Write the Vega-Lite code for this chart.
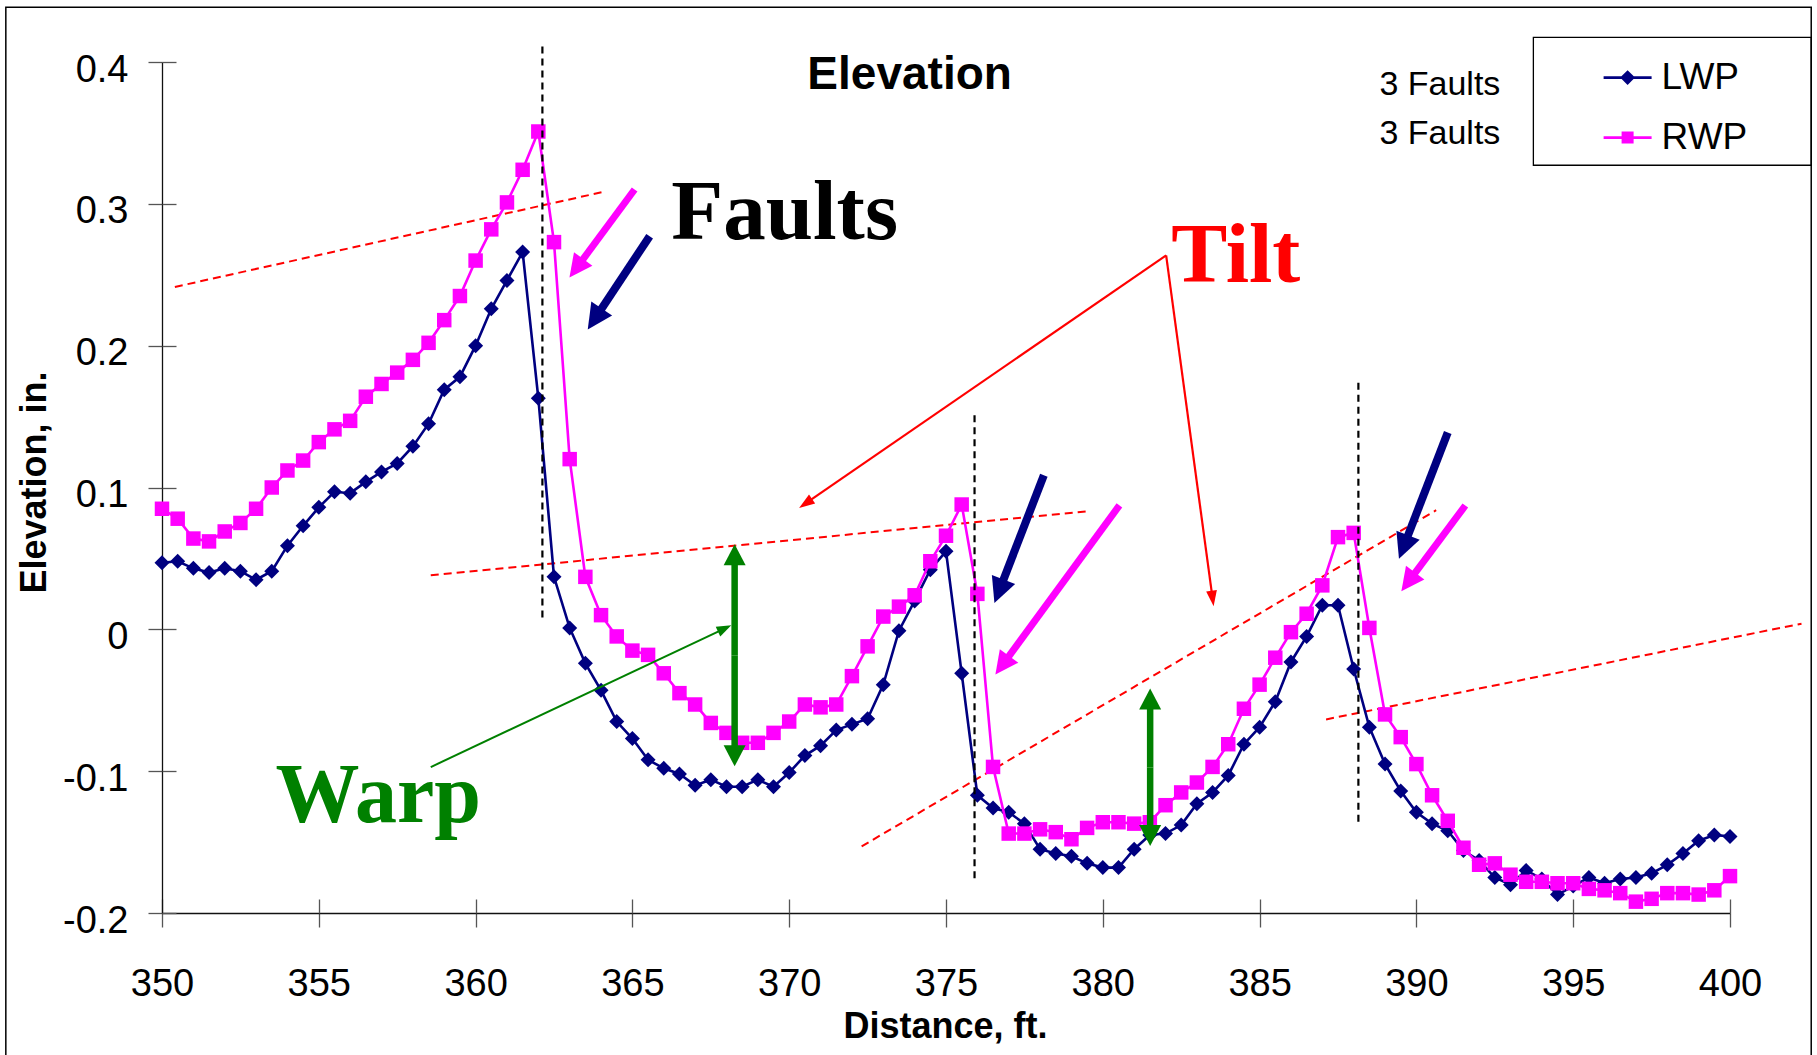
{
  "$schema": "https://vega.github.io/schema/vega-lite/v6.json",
  "width": 1568,
  "height": 851,
  "autosize": {"type": "none"},
  "padding": {"left": 162, "top": 62, "right": 87, "bottom": 142},
  "background": "white",
  "config": {
    "view": {"stroke": null},
    "font": "Liberation Sans",
    "axis": {
      "grid": false,
      "domainColor": "#111111",
      "domainWidth": 1.3,
      "tickColor": "#555555",
      "tickWidth": 1.3,
      "labelFont": "Liberation Sans",
      "labelFontSize": 38,
      "labelColor": "black",
      "titleFont": "Liberation Sans",
      "titleFontSize": 36,
      "titleFontWeight": "bold",
      "titleColor": "black"
    }
  },
  "datasets": {
    "profile": [
      {"d": 350.0, "LWP": 0.047, "RWP": 0.085},
      {"d": 350.5, "LWP": 0.048, "RWP": 0.078},
      {"d": 351.0, "LWP": 0.043, "RWP": 0.064},
      {"d": 351.5, "LWP": 0.040, "RWP": 0.062},
      {"d": 352.0, "LWP": 0.043, "RWP": 0.069},
      {"d": 352.5, "LWP": 0.041, "RWP": 0.075},
      {"d": 353.0, "LWP": 0.035, "RWP": 0.085},
      {"d": 353.5, "LWP": 0.041, "RWP": 0.100},
      {"d": 354.0, "LWP": 0.059, "RWP": 0.112},
      {"d": 354.5, "LWP": 0.073, "RWP": 0.119},
      {"d": 355.0, "LWP": 0.086, "RWP": 0.132},
      {"d": 355.5, "LWP": 0.097, "RWP": 0.141},
      {"d": 356.0, "LWP": 0.096, "RWP": 0.147},
      {"d": 356.5, "LWP": 0.104, "RWP": 0.164},
      {"d": 357.0, "LWP": 0.111, "RWP": 0.173},
      {"d": 357.5, "LWP": 0.117, "RWP": 0.181},
      {"d": 358.0, "LWP": 0.129, "RWP": 0.190},
      {"d": 358.5, "LWP": 0.145, "RWP": 0.202},
      {"d": 359.0, "LWP": 0.169, "RWP": 0.218},
      {"d": 359.5, "LWP": 0.178, "RWP": 0.235},
      {"d": 360.0, "LWP": 0.200, "RWP": 0.260},
      {"d": 360.5, "LWP": 0.226, "RWP": 0.282},
      {"d": 361.0, "LWP": 0.246, "RWP": 0.301},
      {"d": 361.5, "LWP": 0.266, "RWP": 0.324},
      {"d": 362.0, "LWP": 0.163, "RWP": 0.351},
      {"d": 362.5, "LWP": 0.037, "RWP": 0.273},
      {"d": 363.0, "LWP": 0.001, "RWP": 0.120},
      {"d": 363.5, "LWP": -0.024, "RWP": 0.037},
      {"d": 364.0, "LWP": -0.043, "RWP": 0.010},
      {"d": 364.5, "LWP": -0.065, "RWP": -0.005},
      {"d": 365.0, "LWP": -0.077, "RWP": -0.015},
      {"d": 365.5, "LWP": -0.092, "RWP": -0.018},
      {"d": 366.0, "LWP": -0.098, "RWP": -0.031},
      {"d": 366.5, "LWP": -0.102, "RWP": -0.045},
      {"d": 367.0, "LWP": -0.110, "RWP": -0.053},
      {"d": 367.5, "LWP": -0.106, "RWP": -0.066},
      {"d": 368.0, "LWP": -0.111, "RWP": -0.073},
      {"d": 368.5, "LWP": -0.111, "RWP": -0.080},
      {"d": 369.0, "LWP": -0.106, "RWP": -0.080},
      {"d": 369.5, "LWP": -0.111, "RWP": -0.073},
      {"d": 370.0, "LWP": -0.101, "RWP": -0.065},
      {"d": 370.5, "LWP": -0.089, "RWP": -0.053},
      {"d": 371.0, "LWP": -0.082, "RWP": -0.055},
      {"d": 371.5, "LWP": -0.071, "RWP": -0.053},
      {"d": 372.0, "LWP": -0.067, "RWP": -0.033},
      {"d": 372.5, "LWP": -0.063, "RWP": -0.012},
      {"d": 373.0, "LWP": -0.039, "RWP": 0.009},
      {"d": 373.5, "LWP": -0.001, "RWP": 0.016},
      {"d": 374.0, "LWP": 0.020, "RWP": 0.024},
      {"d": 374.5, "LWP": 0.042, "RWP": 0.048},
      {"d": 375.0, "LWP": 0.055, "RWP": 0.066},
      {"d": 375.5, "LWP": -0.031, "RWP": 0.088},
      {"d": 376.0, "LWP": -0.117, "RWP": 0.025},
      {"d": 376.5, "LWP": -0.126, "RWP": -0.097},
      {"d": 377.0, "LWP": -0.129, "RWP": -0.144},
      {"d": 377.5, "LWP": -0.137, "RWP": -0.144},
      {"d": 378.0, "LWP": -0.155, "RWP": -0.141},
      {"d": 378.5, "LWP": -0.158, "RWP": -0.143},
      {"d": 379.0, "LWP": -0.160, "RWP": -0.148},
      {"d": 379.5, "LWP": -0.165, "RWP": -0.140},
      {"d": 380.0, "LWP": -0.168, "RWP": -0.136},
      {"d": 380.5, "LWP": -0.168, "RWP": -0.136},
      {"d": 381.0, "LWP": -0.155, "RWP": -0.137},
      {"d": 381.5, "LWP": -0.145, "RWP": -0.136},
      {"d": 382.0, "LWP": -0.144, "RWP": -0.124},
      {"d": 382.5, "LWP": -0.138, "RWP": -0.115},
      {"d": 383.0, "LWP": -0.123, "RWP": -0.108},
      {"d": 383.5, "LWP": -0.115, "RWP": -0.097},
      {"d": 384.0, "LWP": -0.103, "RWP": -0.081},
      {"d": 384.5, "LWP": -0.081, "RWP": -0.056},
      {"d": 385.0, "LWP": -0.069, "RWP": -0.039},
      {"d": 385.5, "LWP": -0.051, "RWP": -0.020},
      {"d": 386.0, "LWP": -0.023, "RWP": -0.002},
      {"d": 386.5, "LWP": -0.005, "RWP": 0.011},
      {"d": 387.0, "LWP": 0.017, "RWP": 0.031},
      {"d": 387.5, "LWP": 0.017, "RWP": 0.065},
      {"d": 388.0, "LWP": -0.028, "RWP": 0.068},
      {"d": 388.5, "LWP": -0.069, "RWP": 0.001},
      {"d": 389.0, "LWP": -0.095, "RWP": -0.060},
      {"d": 389.5, "LWP": -0.114, "RWP": -0.076},
      {"d": 390.0, "LWP": -0.129, "RWP": -0.095},
      {"d": 390.5, "LWP": -0.137, "RWP": -0.117},
      {"d": 391.0, "LWP": -0.142, "RWP": -0.135},
      {"d": 391.5, "LWP": -0.156, "RWP": -0.154},
      {"d": 392.0, "LWP": -0.163, "RWP": -0.166},
      {"d": 392.5, "LWP": -0.175, "RWP": -0.165},
      {"d": 393.0, "LWP": -0.180, "RWP": -0.173},
      {"d": 393.5, "LWP": -0.170, "RWP": -0.178},
      {"d": 394.0, "LWP": -0.176, "RWP": -0.178},
      {"d": 394.5, "LWP": -0.187, "RWP": -0.179},
      {"d": 395.0, "LWP": -0.181, "RWP": -0.179},
      {"d": 395.5, "LWP": -0.175, "RWP": -0.183},
      {"d": 396.0, "LWP": -0.179, "RWP": -0.184},
      {"d": 396.5, "LWP": -0.176, "RWP": -0.186},
      {"d": 397.0, "LWP": -0.175, "RWP": -0.192},
      {"d": 397.5, "LWP": -0.172, "RWP": -0.190},
      {"d": 398.0, "LWP": -0.166, "RWP": -0.186},
      {"d": 398.5, "LWP": -0.158, "RWP": -0.186},
      {"d": 399.0, "LWP": -0.149, "RWP": -0.187},
      {"d": 399.5, "LWP": -0.145, "RWP": -0.184},
      {"d": 400.0, "LWP": -0.146, "RWP": -0.174}
    ],
    "frame": [
      {"x0": 345.02, "x1": 402.59, "y0": 0.4386, "y1": -0.31}
    ],
    "legendBox": [
      {"x0": 393.73, "x1": 402.59, "y0": 0.4173, "y1": 0.3272}
    ],
    "tiltLines": [
      {"x0": 350.41, "y0": 0.2414, "x1": 364.17, "y1": 0.3089},
      {"x0": 358.57, "y0": 0.0381, "x1": 379.47, "y1": 0.0832},
      {"x0": 372.31, "y0": -0.1530, "x1": 390.63, "y1": 0.0840},
      {"x0": 387.12, "y0": -0.0635, "x1": 402.28, "y1": 0.0040}
    ],
    "faultMarks": [
      {"x": 362.13, "y0": 0.4109, "y1": 0.0052},
      {"x": 375.91, "y0": 0.1509, "y1": -0.1758},
      {"x": 388.15, "y0": 0.1739, "y1": -0.1382}
    ],
    "arrows": [
      {"group": "LWP fault", "x0": 365.55, "y0": 0.2772, "x1": 364.00, "y1": 0.2255},
      {"group": "LWP fault", "x0": 378.12, "y0": 0.1086, "x1": 376.82, "y1": 0.0343},
      {"group": "LWP fault", "x0": 391.00, "y0": 0.1388, "x1": 389.72, "y1": 0.0655},
      {"group": "RWP fault", "x0": 365.07, "y0": 0.3101, "x1": 363.41, "y1": 0.2605},
      {"group": "RWP fault", "x0": 380.53, "y0": 0.0874, "x1": 376.99, "y1": -0.0194},
      {"group": "RWP fault", "x0": 391.56, "y0": 0.0873, "x1": 389.94, "y1": 0.0393},
      {"group": "Tilt", "x0": 382.02, "y0": 0.2637, "x1": 370.71, "y1": 0.0916},
      {"group": "Tilt", "x0": 382.02, "y0": 0.2637, "x1": 383.47, "y1": 0.0267},
      {"group": "Warp link", "x0": 358.57, "y0": -0.0971, "x1": 367.75, "y1": -0.0014},
      {"group": "Warp span", "x0": 368.26, "y0": -0.0183, "x1": 368.26, "y1": 0.0458},
      {"group": "Warp span", "x0": 368.26, "y0": -0.0183, "x1": 368.26, "y1": -0.0825},
      {"group": "Warp span", "x0": 381.51, "y0": -0.0973, "x1": 381.51, "y1": -0.0559},
      {"group": "Warp span", "x0": 381.51, "y0": -0.0973, "x1": 381.51, "y1": -0.1387}
    ],
    "callouts": [
      {"label": "Faults", "x": 366.24, "y": 0.2755},
      {"label": "Tilt", "x": 382.18, "y": 0.2449},
      {"label": "Warp", "x": 353.62, "y": -0.1359}
    ],
    "heading": [
      {"label": "Elevation", "x": 373.84, "y": 0.3813}
    ],
    "notes": [
      {"label": "3 Faults", "x": 388.82, "y": 0.3766},
      {"label": "3 Faults", "x": 388.82, "y": 0.3425}
    ]
  },
  "resolve": {"axis": {"x": "independent", "y": "independent"}},
  "layer": [
    {
      "data": {"name": "frame"},
      "mark": {"type": "rect", "filled": false, "stroke": "black", "strokeWidth": 1.5, "clip": false},
      "encoding": {
        "x": {"field": "x0", "type": "quantitative", "scale": {"domain": [350, 400], "nice": false, "zero": false}, "axis": null},
        "x2": {"field": "x1"},
        "y": {"field": "y0", "type": "quantitative", "scale": {"domain": [-0.2, 0.4], "nice": false, "zero": false}, "axis": null},
        "y2": {"field": "y1"}
      }
    },
    {
      "data": {"name": "legendBox"},
      "mark": {"type": "rect", "filled": false, "stroke": "black", "strokeWidth": 1.3, "clip": false},
      "encoding": {
        "x": {"field": "x0", "type": "quantitative", "axis": null},
        "x2": {"field": "x1"},
        "y": {"field": "y0", "type": "quantitative", "axis": null},
        "y2": {"field": "y1"}
      }
    },
    {
      "data": {"name": "tiltLines"},
      "mark": {"type": "rule", "color": "#FF0000", "strokeWidth": 2, "strokeDash": [8, 5]},
      "encoding": {
        "x": {"field": "x0", "type": "quantitative", "axis": null},
        "y": {"field": "y0", "type": "quantitative", "axis": null},
        "x2": {"field": "x1"},
        "y2": {"field": "y1"}
      }
    },
    {
      "data": {"name": "profile"},
      "transform": [
        {"fold": ["LWP", "RWP"], "as": ["track", "elev"]},
        {"filter": "datum.track === 'LWP'"}
      ],
      "mark": {"type": "line", "strokeWidth": 2.6},
      "encoding": {
        "x": {
          "field": "d", "type": "quantitative",
          "scale": {"domain": [350, 400], "nice": false, "zero": false},
          "axis": {"orient": "bottom", "title": "Distance, ft.", "values": [350, 355, 360, 365, 370, 375, 380, 385, 390, 395, 400], "tickSize": 14, "labelPadding": 68, "labelBaseline": "alphabetic", "titleX": 783, "titleY": 124, "titleBaseline": "alphabetic", "labelFlush": false, "labelOverlap": false}
        },
        "y": {
          "field": "elev", "type": "quantitative",
          "scale": {"domain": [-0.2, 0.4], "nice": false, "zero": false},
          "axis": {"orient": "left", "title": "Elevation, in.", "values": [-0.2, -0.1, 0, 0.1, 0.2, 0.3, 0.4], "tickSize": 14, "labelPadding": 20, "labelBaseline": "alphabetic", "labelOffset": 19, "labelExpr": "datum.value === 0 ? '0' : (datum.value < 0 ? '-' + format(-datum.value, '.1f') : format(datum.value, '.1f'))", "titleX": -117, "titleY": 420, "titleAngle": -90, "titleBaseline": "alphabetic", "labelFlush": false, "labelOverlap": false}
        },
        "color": {
          "field": "track", "type": "nominal",
          "scale": {"domain": ["LWP", "RWP"], "range": ["#000080", "#FF00FF"]},
          "legend": {
            "orient": "none",
            "legendX": 1372,
            "legendY": -22,
            "title": null,
            "padding": 13.6,
            "symbolOffset": 56,
            "symbolSize": 2304,
            "labelOffset": 10,
            "rowPadding": 18,
            "labelFont": "Liberation Sans",
            "labelFontSize": 37,
            "labelColor": "black",
            "encode": {
              "symbols": {
                "update": {
                  "shape": {"signal": "datum.value === 'LWP' ? 'M-1,-0.055H1V0.055H-1Z M0,-0.31L0.31,0L0,0.31L-0.31,0Z' : 'M-1,-0.055H1V0.055H-1Z M-0.25,-0.25H0.25V0.25H-0.25Z'"},
                  "fill": {"signal": "datum.value === 'LWP' ? '#000080' : '#FF00FF'"},
                  "size": {"value": 2304},
                  "strokeWidth": {"value": 0},
                  "opacity": {"value": 1}
                }
              }
            }
          }
        }
      }
    },
    {
      "data": {"name": "profile"},
      "transform": [
        {"fold": ["LWP", "RWP"], "as": ["track", "elev"]},
        {"filter": "datum.track === 'LWP'"}
      ],
      "mark": {"type": "point", "shape": "diamond", "filled": true, "size": 225, "opacity": 1},
      "encoding": {
        "x": {"field": "d", "type": "quantitative", "axis": null},
        "y": {"field": "elev", "type": "quantitative", "axis": null},
        "color": {"field": "track", "type": "nominal"}
      }
    },
    {
      "data": {"name": "profile"},
      "transform": [
        {"fold": ["LWP", "RWP"], "as": ["track", "elev"]},
        {"filter": "datum.track === 'RWP'"}
      ],
      "mark": {"type": "line", "strokeWidth": 2.6},
      "encoding": {
        "x": {
          "field": "d", "type": "quantitative",
          "axis": {"orient": "bottom", "title": null, "labels": false, "domain": false, "values": [350, 355, 360, 365, 370, 375, 380, 385, 390, 395, 400], "tickSize": -14}
        },
        "y": {
          "field": "elev", "type": "quantitative",
          "axis": {"orient": "left", "title": null, "labels": false, "domain": false, "values": [-0.2, -0.1, 0, 0.1, 0.2, 0.3, 0.4], "tickSize": -14}
        },
        "color": {"field": "track", "type": "nominal"}
      }
    },
    {
      "data": {"name": "profile"},
      "transform": [
        {"fold": ["LWP", "RWP"], "as": ["track", "elev"]},
        {"filter": "datum.track === 'RWP'"}
      ],
      "mark": {"type": "point", "shape": "square", "filled": true, "size": 210, "opacity": 1},
      "encoding": {
        "x": {"field": "d", "type": "quantitative", "axis": null},
        "y": {"field": "elev", "type": "quantitative", "axis": null},
        "color": {"field": "track", "type": "nominal"}
      }
    },
    {
      "data": {"name": "faultMarks"},
      "mark": {"type": "rule", "color": "black", "strokeWidth": 2.2, "strokeDash": [7, 5]},
      "encoding": {
        "x": {"field": "x", "type": "quantitative", "axis": null},
        "y": {"field": "y0", "type": "quantitative", "axis": null},
        "y2": {"field": "y1"}
      }
    },
    {
      "data": {"name": "arrows"},
      "transform": [{"filter": "datum.group === 'LWP fault'"}],
      "mark": {"type": "rule", "color": "#000080", "strokeWidth": 8, "strokeCap": "butt"},
      "encoding": {
        "x": {"field": "x0", "type": "quantitative", "axis": null},
        "y": {"field": "y0", "type": "quantitative", "axis": null},
        "x2": {"field": "x1"},
        "y2": {"field": "y1"}
      }
    },
    {
      "data": {"name": "arrows"},
      "transform": [{"filter": "datum.group === 'LWP fault'"}],
      "mark": {"type": "point", "shape": "M0,-1L0.52,0.05L-0.52,0.05Z", "filled": true, "size": 2304, "color": "#000080", "opacity": 1},
      "encoding": {
        "x": {"field": "x1", "type": "quantitative", "axis": null},
        "y": {"field": "y1", "type": "quantitative", "axis": null},
        "angle": {"value": {"expr": "atan2(scale('x', datum.x1) - scale('x', datum.x0), scale('y', datum.y0) - scale('y', datum.y1)) * 180 / PI"}}
      }
    },
    {
      "data": {"name": "arrows"},
      "transform": [{"filter": "datum.group === 'RWP fault'"}],
      "mark": {"type": "rule", "color": "#FF00FF", "strokeWidth": 7, "strokeCap": "butt"},
      "encoding": {
        "x": {"field": "x0", "type": "quantitative", "axis": null},
        "y": {"field": "y0", "type": "quantitative", "axis": null},
        "x2": {"field": "x1"},
        "y2": {"field": "y1"}
      }
    },
    {
      "data": {"name": "arrows"},
      "transform": [{"filter": "datum.group === 'RWP fault'"}],
      "mark": {"type": "point", "shape": "M0,-1L0.52,0.05L-0.52,0.05Z", "filled": true, "size": 1936, "color": "#FF00FF", "opacity": 1},
      "encoding": {
        "x": {"field": "x1", "type": "quantitative", "axis": null},
        "y": {"field": "y1", "type": "quantitative", "axis": null},
        "angle": {"value": {"expr": "atan2(scale('x', datum.x1) - scale('x', datum.x0), scale('y', datum.y0) - scale('y', datum.y1)) * 180 / PI"}}
      }
    },
    {
      "data": {"name": "arrows"},
      "transform": [{"filter": "datum.group === 'Tilt'"}],
      "mark": {"type": "rule", "color": "#FF0000", "strokeWidth": 2.2, "strokeCap": "butt"},
      "encoding": {
        "x": {"field": "x0", "type": "quantitative", "axis": null},
        "y": {"field": "y0", "type": "quantitative", "axis": null},
        "x2": {"field": "x1"},
        "y2": {"field": "y1"}
      }
    },
    {
      "data": {"name": "arrows"},
      "transform": [{"filter": "datum.group === 'Tilt'"}],
      "mark": {"type": "point", "shape": "M0,-1L0.36,0.05L-0.36,0.05Z", "filled": true, "size": 900, "color": "#FF0000", "opacity": 1},
      "encoding": {
        "x": {"field": "x1", "type": "quantitative", "axis": null},
        "y": {"field": "y1", "type": "quantitative", "axis": null},
        "angle": {"value": {"expr": "atan2(scale('x', datum.x1) - scale('x', datum.x0), scale('y', datum.y0) - scale('y', datum.y1)) * 180 / PI"}}
      }
    },
    {
      "data": {"name": "arrows"},
      "transform": [{"filter": "datum.group === 'Warp link'"}],
      "mark": {"type": "rule", "color": "#008000", "strokeWidth": 2, "strokeCap": "butt"},
      "encoding": {
        "x": {"field": "x0", "type": "quantitative", "axis": null},
        "y": {"field": "y0", "type": "quantitative", "axis": null},
        "x2": {"field": "x1"},
        "y2": {"field": "y1"}
      }
    },
    {
      "data": {"name": "arrows"},
      "transform": [{"filter": "datum.group === 'Warp link'"}],
      "mark": {"type": "point", "shape": "M0,-1L0.38,0.05L-0.38,0.05Z", "filled": true, "size": 784, "color": "#008000", "opacity": 1},
      "encoding": {
        "x": {"field": "x1", "type": "quantitative", "axis": null},
        "y": {"field": "y1", "type": "quantitative", "axis": null},
        "angle": {"value": {"expr": "atan2(scale('x', datum.x1) - scale('x', datum.x0), scale('y', datum.y0) - scale('y', datum.y1)) * 180 / PI"}}
      }
    },
    {
      "data": {"name": "arrows"},
      "transform": [{"filter": "datum.group === 'Warp span'"}],
      "mark": {"type": "rule", "color": "#008000", "strokeWidth": 6.5, "strokeCap": "butt"},
      "encoding": {
        "x": {"field": "x0", "type": "quantitative", "axis": null},
        "y": {"field": "y0", "type": "quantitative", "axis": null},
        "x2": {"field": "x1"},
        "y2": {"field": "y1"}
      }
    },
    {
      "data": {"name": "arrows"},
      "transform": [{"filter": "datum.group === 'Warp span'"}],
      "mark": {"type": "point", "shape": "M0,-1L0.55,0.05L-0.55,0.05Z", "filled": true, "size": 1600, "color": "#008000", "opacity": 1},
      "encoding": {
        "x": {"field": "x1", "type": "quantitative", "axis": null},
        "y": {"field": "y1", "type": "quantitative", "axis": null},
        "angle": {"value": {"expr": "atan2(scale('x', datum.x1) - scale('x', datum.x0), scale('y', datum.y0) - scale('y', datum.y1)) * 180 / PI"}}
      }
    },
    {
      "data": {"name": "callouts"},
      "transform": [{"filter": "datum.label === 'Faults'"}],
      "mark": {"type": "text", "font": "Liberation Serif", "fontWeight": "bold", "fontSize": 85, "color": "black", "align": "left", "baseline": "alphabetic"},
      "encoding": {
        "x": {"field": "x", "type": "quantitative", "axis": null},
        "y": {"field": "y", "type": "quantitative", "axis": null},
        "text": {"field": "label"}
      }
    },
    {
      "data": {"name": "callouts"},
      "transform": [{"filter": "datum.label === 'Tilt'"}],
      "mark": {"type": "text", "font": "Liberation Serif", "fontWeight": "bold", "fontSize": 84, "color": "#FF0000", "align": "left", "baseline": "alphabetic"},
      "encoding": {
        "x": {"field": "x", "type": "quantitative", "axis": null},
        "y": {"field": "y", "type": "quantitative", "axis": null},
        "text": {"field": "label"}
      }
    },
    {
      "data": {"name": "callouts"},
      "transform": [{"filter": "datum.label === 'Warp'"}],
      "mark": {"type": "text", "font": "Liberation Serif", "fontWeight": "bold", "fontSize": 84, "color": "#008000", "align": "left", "baseline": "alphabetic"},
      "encoding": {
        "x": {"field": "x", "type": "quantitative", "axis": null},
        "y": {"field": "y", "type": "quantitative", "axis": null},
        "text": {"field": "label"}
      }
    },
    {
      "data": {"name": "heading"},
      "mark": {"type": "text", "font": "Liberation Sans", "fontWeight": "bold", "fontSize": 46, "color": "black", "align": "center", "baseline": "alphabetic"},
      "encoding": {
        "x": {"field": "x", "type": "quantitative", "axis": null},
        "y": {"field": "y", "type": "quantitative", "axis": null},
        "text": {"field": "label"}
      }
    },
    {
      "data": {"name": "notes"},
      "mark": {"type": "text", "font": "Liberation Sans", "fontSize": 34, "color": "black", "align": "left", "baseline": "alphabetic"},
      "encoding": {
        "x": {"field": "x", "type": "quantitative", "axis": null},
        "y": {"field": "y", "type": "quantitative", "axis": null},
        "text": {"field": "label"}
      }
    }
  ]
}
